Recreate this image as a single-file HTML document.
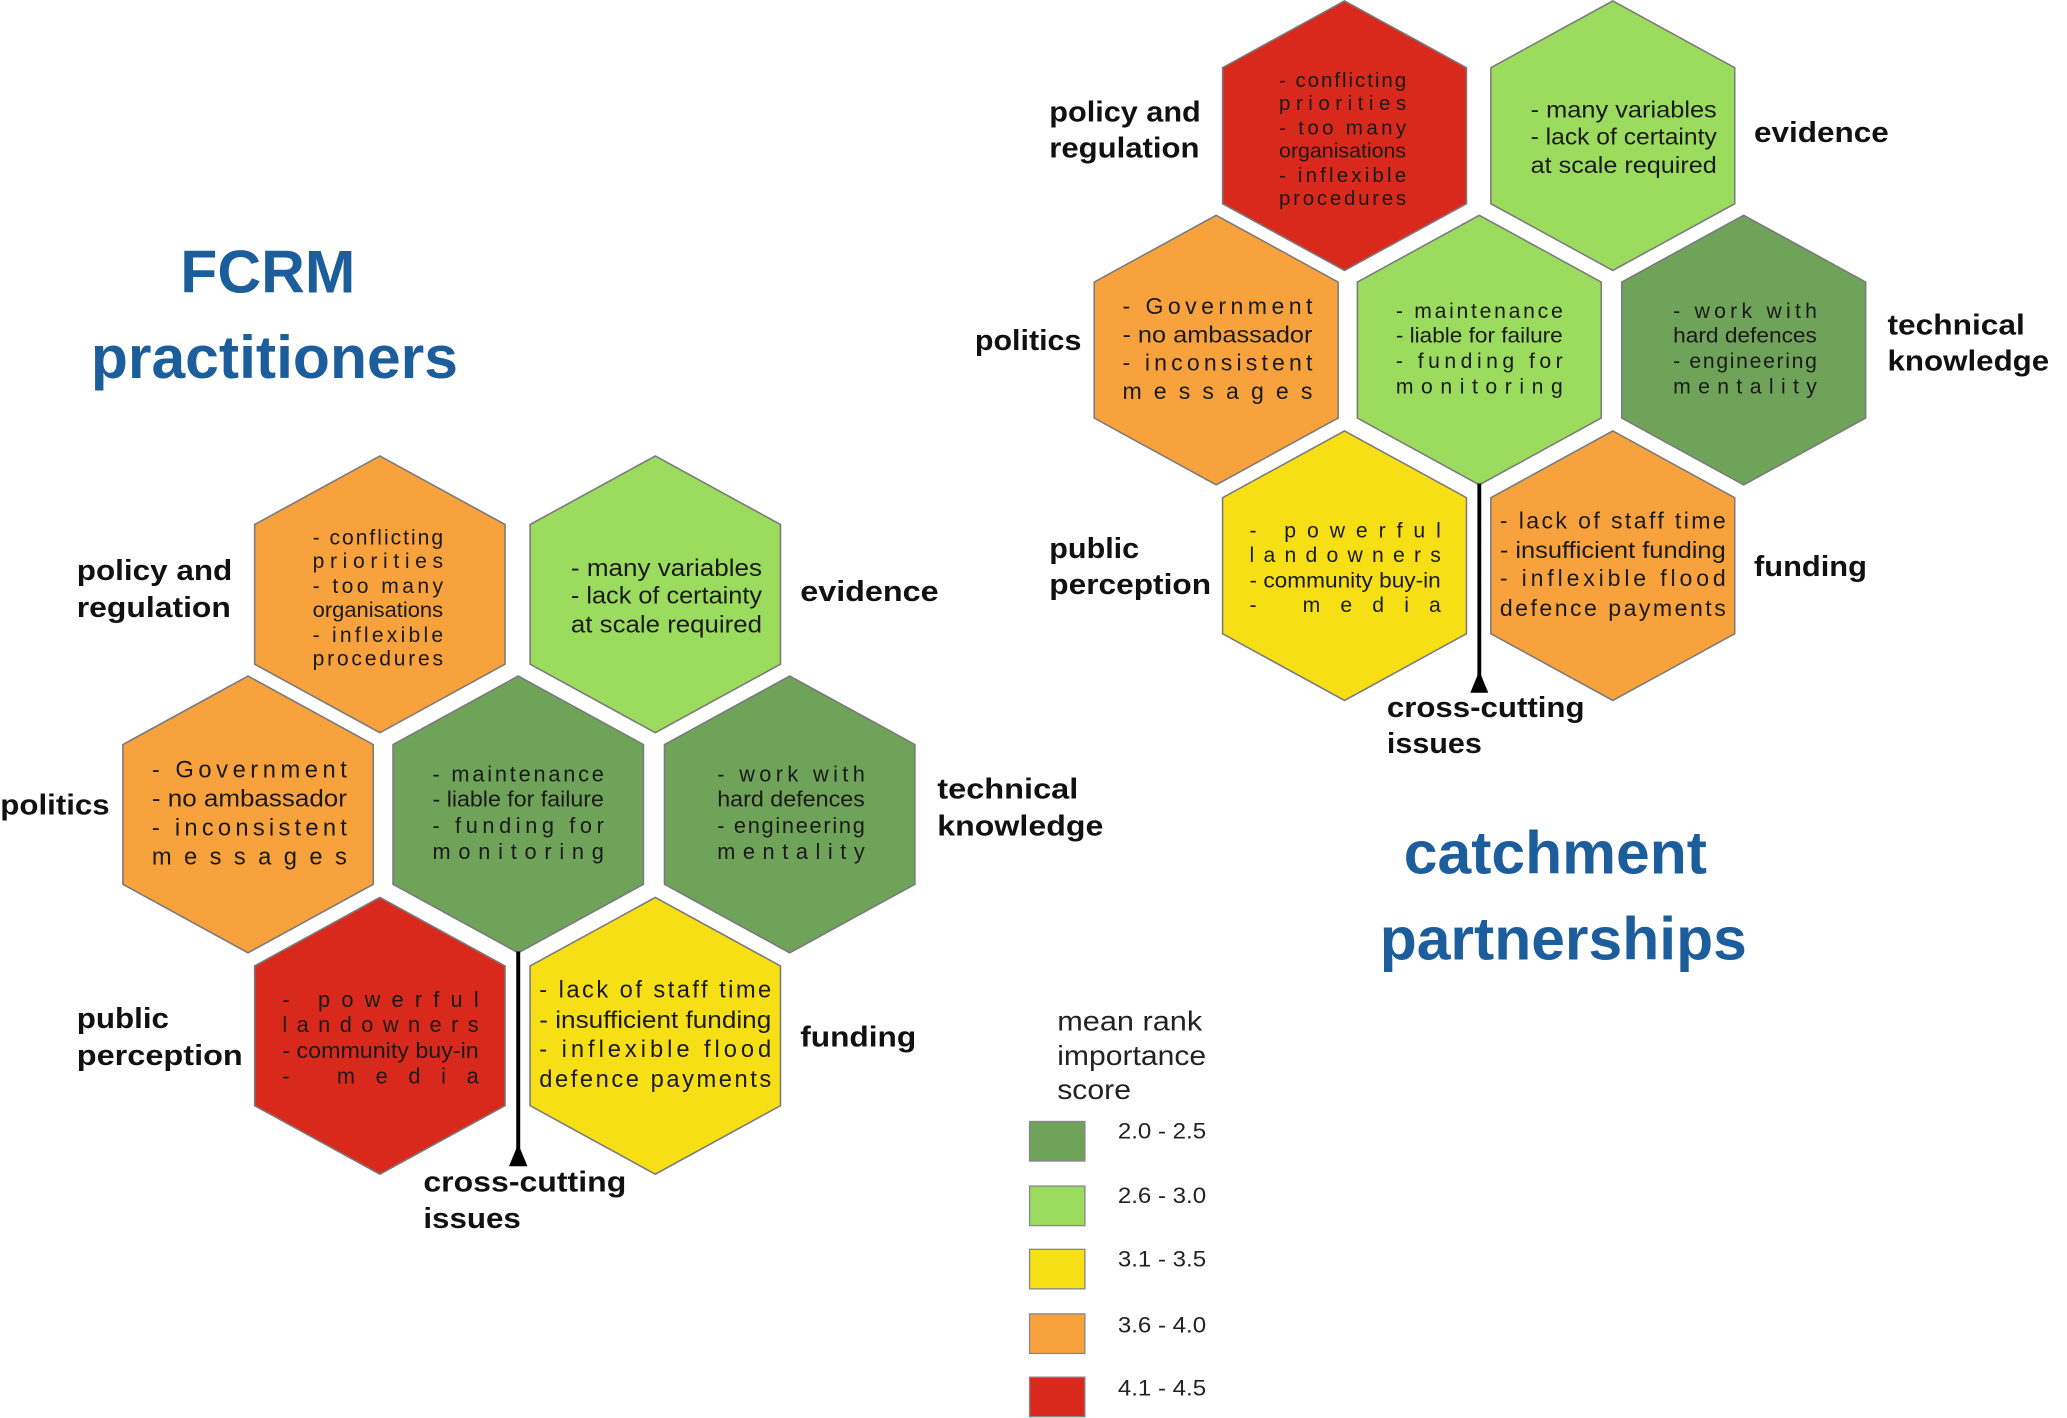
<!DOCTYPE html>
<html><head><meta charset="utf-8"><style>
html,body{margin:0;padding:0;background:#fff;}
svg{display:block;}
text{font-family:"Liberation Sans",sans-serif;}
.lb{font-size:22px;font-weight:bold;fill:#111;}
.ht{fill:#1a1a1a;}
.tt{font-size:46px;font-weight:bold;fill:#1c5d9c;}
</style></head><body>
<svg width="2067" height="1418" viewBox="0 0 1568 1076" xmlns="http://www.w3.org/2000/svg">
<defs>
<g id="content">
<line x1="393" y1="722" x2="393" y2="872" stroke="#000" stroke-width="3"/>
<polygon points="393,868 386,885 400,885" fill="#000"/>
<g class="ht" font-size="16">
<text x="237" y="413" textLength="99" lengthAdjust="spacing">-  conflicting</text>
<text x="237" y="431" textLength="99" lengthAdjust="spacing">priorities</text>
<text x="237" y="450" textLength="99" lengthAdjust="spacing">-  too  many</text>
<text x="237" y="468" textLength="99" lengthAdjust="spacingAndGlyphs">organisations</text>
<text x="237" y="487" textLength="99" lengthAdjust="spacing">-  inflexible</text>
<text x="237" y="505" textLength="99" lengthAdjust="spacing">procedures</text>
</g>
<g class="ht" font-size="18">
<text x="433" y="437" textLength="145" lengthAdjust="spacingAndGlyphs">- many variables</text>
<text x="433" y="458" textLength="145" lengthAdjust="spacingAndGlyphs">- lack of certainty</text>
<text x="433" y="480" textLength="145" lengthAdjust="spacingAndGlyphs">at scale required</text>
<text x="115" y="590" textLength="148" lengthAdjust="spacing">-  Government</text>
<text x="115" y="612" textLength="148" lengthAdjust="spacingAndGlyphs">- no ambassador</text>
<text x="115" y="634" textLength="148" lengthAdjust="spacing">-  inconsistent</text>
<text x="115" y="656" textLength="148" lengthAdjust="spacing">messages</text>
</g>
<g class="ht" font-size="16.5">
<text x="328" y="593" textLength="130" lengthAdjust="spacing">-  maintenance</text>
<text x="328" y="612" textLength="130" lengthAdjust="spacingAndGlyphs">- liable for failure</text>
<text x="328" y="632" textLength="130" lengthAdjust="spacing">-  funding  for</text>
<text x="328" y="652" textLength="130" lengthAdjust="spacing">monitoring</text>
<text x="544" y="593" textLength="112" lengthAdjust="spacing">-  work  with</text>
<text x="544" y="612" textLength="112" lengthAdjust="spacingAndGlyphs">hard defences</text>
<text x="544" y="632" textLength="112" lengthAdjust="spacing">-  engineering</text>
<text x="544" y="652" textLength="112" lengthAdjust="spacing">mentality</text>
<text x="214" y="764" textLength="149" lengthAdjust="spacing">-  powerful</text>
<text x="214" y="783" textLength="149" lengthAdjust="spacing">landowners</text>
<text x="214" y="803" textLength="149" lengthAdjust="spacingAndGlyphs">- community buy-in</text>
<text x="214" y="822" textLength="149" lengthAdjust="spacing">-      media</text>
</g>
<g class="ht" font-size="18">
<text x="409" y="757" textLength="176" lengthAdjust="spacing">- lack of staff time</text>
<text x="409" y="780" textLength="176" lengthAdjust="spacingAndGlyphs">- insufficient funding</text>
<text x="409" y="802" textLength="176" lengthAdjust="spacing">-  inflexible  flood</text>
<text x="409" y="825" textLength="176" lengthAdjust="spacing">defence  payments</text>
</g>
<g class="lb">
<text x="58" y="440" textLength="118" lengthAdjust="spacingAndGlyphs">policy and</text>
<text x="58" y="468" textLength="117" lengthAdjust="spacingAndGlyphs">regulation</text>
<text x="607" y="456" textLength="105" lengthAdjust="spacingAndGlyphs">evidence</text>
<text x="0" y="618" textLength="83" lengthAdjust="spacingAndGlyphs">politics</text>
<text x="711" y="606" textLength="107" lengthAdjust="spacingAndGlyphs">technical</text>
<text x="711" y="634" textLength="126" lengthAdjust="spacingAndGlyphs">knowledge</text>
<text x="58" y="780" textLength="70" lengthAdjust="spacingAndGlyphs">public</text>
<text x="58" y="808" textLength="126" lengthAdjust="spacingAndGlyphs">perception</text>
<text x="607" y="794" textLength="88" lengthAdjust="spacingAndGlyphs">funding</text>
<text x="321" y="904" textLength="154" lengthAdjust="spacingAndGlyphs">cross-cutting</text>
<text x="321" y="932" textLength="74" lengthAdjust="spacingAndGlyphs">issues</text>
</g>
</g>
</defs>

<!-- LEFT DIAGRAM -->
<g stroke="#7a7a7a" stroke-width="1.2">
<polygon transform="translate(288,451)" points="0,-105 95,-53 95,53 0,105 -95,53 -95,-53" fill="#f7a23c"/>
<polygon transform="translate(497,451)" points="0,-105 95,-53 95,53 0,105 -95,53 -95,-53" fill="#9bdb5e"/>
<polygon transform="translate(188,618)" points="0,-105 95,-53 95,53 0,105 -95,53 -95,-53" fill="#f7a23c"/>
<polygon transform="translate(393,618)" points="0,-105 95,-53 95,53 0,105 -95,53 -95,-53" fill="#6fa35a"/>
<polygon transform="translate(599,618)" points="0,-105 95,-53 95,53 0,105 -95,53 -95,-53" fill="#6fa35a"/>
<polygon transform="translate(288,786)" points="0,-105 95,-53 95,53 0,105 -95,53 -95,-53" fill="#d9291c"/>
<polygon transform="translate(497,786)" points="0,-105 95,-53 95,53 0,105 -95,53 -95,-53" fill="#f7df16"/>
</g>
<use href="#content"/>

<!-- RIGHT DIAGRAM -->
<g transform="translate(739.5,-336.3) scale(0.974)">
<g stroke="#7a7a7a" stroke-width="1.2">
<polygon transform="translate(288,451)" points="0,-105 95,-53 95,53 0,105 -95,53 -95,-53" fill="#d9291c"/>
<polygon transform="translate(497,451)" points="0,-105 95,-53 95,53 0,105 -95,53 -95,-53" fill="#9bdb5e"/>
<polygon transform="translate(188,618)" points="0,-105 95,-53 95,53 0,105 -95,53 -95,-53" fill="#f7a23c"/>
<polygon transform="translate(393,618)" points="0,-105 95,-53 95,53 0,105 -95,53 -95,-53" fill="#9bdb5e"/>
<polygon transform="translate(599,618)" points="0,-105 95,-53 95,53 0,105 -95,53 -95,-53" fill="#6fa35a"/>
<polygon transform="translate(288,786)" points="0,-105 95,-53 95,53 0,105 -95,53 -95,-53" fill="#f7df16"/>
<polygon transform="translate(497,786)" points="0,-105 95,-53 95,53 0,105 -95,53 -95,-53" fill="#f7a23c"/>
</g>
<use href="#content"/>
</g>

<!-- TITLES -->
<text class="tt" x="203" y="222" text-anchor="middle">FCRM</text>
<text class="tt" x="208" y="287" text-anchor="middle">practitioners</text>
<text class="tt" x="1180" y="663" text-anchor="middle">catchment</text>
<text class="tt" x="1186" y="728" text-anchor="middle">partnerships</text>

<!-- LEGEND -->
<g font-size="21" fill="#222">
<text x="802" y="782" textLength="110" lengthAdjust="spacingAndGlyphs">mean rank</text>
<text x="802" y="808" textLength="113" lengthAdjust="spacingAndGlyphs">importance</text>
<text x="802" y="834" textLength="56" lengthAdjust="spacingAndGlyphs">score</text>
</g>
<g stroke="#888" stroke-width="1">
<rect x="781" y="851" width="42" height="30" fill="#6fa35a"/>
<rect x="781" y="900" width="42" height="30" fill="#9bdb5e"/>
<rect x="781" y="948" width="42" height="30" fill="#f7df16"/>
<rect x="781" y="997" width="42" height="30" fill="#f7a23c"/>
<rect x="781" y="1045" width="42" height="30" fill="#d9291c"/>
</g>
<g font-size="17" fill="#222">
<text x="848" y="864" textLength="67" lengthAdjust="spacingAndGlyphs">2.0 - 2.5</text>
<text x="848" y="913" textLength="67" lengthAdjust="spacingAndGlyphs">2.6 - 3.0</text>
<text x="848" y="961" textLength="67" lengthAdjust="spacingAndGlyphs">3.1 - 3.5</text>
<text x="848" y="1011" textLength="67" lengthAdjust="spacingAndGlyphs">3.6 - 4.0</text>
<text x="848" y="1059" textLength="67" lengthAdjust="spacingAndGlyphs">4.1 - 4.5</text>
</g>
</svg>
</body></html>
